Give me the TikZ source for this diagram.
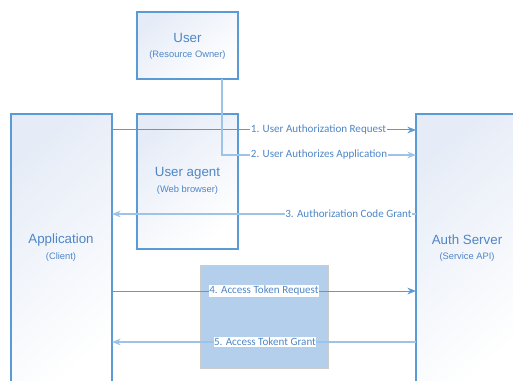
\documentclass[tikz,border=0pt]{standalone}
\usepackage{fontspec}
\setmainfont{Liberation Sans}
\newfontfamily\lblfont{Carlito}
\usetikzlibrary{arrows.meta}
\definecolor{edgeblue}{HTML}{5B9BD5}
\definecolor{paleblue}{HTML}{9DC3E6}
\definecolor{txtblue}{HTML}{4F86C6}
\definecolor{shadeblue}{HTML}{E6ECF7}
\definecolor{zonefill}{HTML}{B4CFEB}
\definecolor{zoneedge}{HTML}{CCCCCC}
\tikzset{
  party/.style={draw=edgeblue, line width=0.8pt, shading=axis, top color=shadeblue,
    bottom color=white, shading angle=40, inner sep=0pt, outer sep=0pt},
  title/.style={text=txtblue, font=\fontsize{10}{12}\selectfont, inner sep=0pt},
  subtitle/.style={text=txtblue, font=\fontsize{7}{8}\selectfont, inner sep=0pt},
  flow/.style={draw=edgeblue, line width=0.75pt, -{Stealth[length=6.5pt,width=5pt]}},
  flowpale/.style={draw=paleblue, line width=1pt, -{Stealth[length=6.5pt,width=5pt]}},
  msg/.style={text=txtblue, fill=white, font=\lblfont\fontsize{8.3}{10}\selectfont,
    inner xsep=0.4pt, inner ysep=0.6pt},
}
\begin{document}
\begin{tikzpicture}[x=0.75pt,y=-0.75pt]
\useasboundingbox (0,0) rectangle (513,381);
\clip (0,0) rectangle (513,381);
\fill[white] (0,0) rectangle (513,381);

% parties
\node[party, minimum width=75.75pt, minimum height=207pt] (app) at (61.5,252) {};
\node[party, minimum width=78pt, minimum height=207pt] (auth) at (468,252) {};
\node[party, minimum width=75.75pt, minimum height=50.25pt] (user) at (187.5,45.5) {};
\node[party, minimum width=75.75pt, minimum height=101.25pt] (agent) at (187.5,181.5) {};

% token exchange zone
\node[fill=zonefill, draw=zoneedge, line width=0.6pt, minimum width=96pt,
  minimum height=77.25pt, inner sep=0pt] (zone) at (264,316.5) {};

% party titles
\node[title] (usert) at (187.5,38) {User};
\node[subtitle] (users) at (187.5,55) {(Resource Owner)};
\node[title] (agentt) at (187.5,173) {User agent};
\node[subtitle] (agents) at (187.5,190) {(Web browser)};
\node[title] (appt) at (61,240) {Application};
\node[subtitle] (apps) at (61,257) {(Client)};
\node[title] (autht) at (467,240) {Auth Server};
\node[subtitle] (auths) at (467,257) {(Service API)};

% messages
\coordinate (udrop) at (222,0);
\draw[flow] (app.east |- 0,130) -- (auth.west |- 0,130);
\draw[flowpale] (user.south -| udrop) |- (auth.west |- 0,155);
\draw[flowpale] (auth.west |- 0,214) -- (app.east |- 0,214);
\draw[flow] (app.east |- 0,291) -- (auth.west |- 0,291);
\draw[flowpale] (auth.west |- 0,342) -- (app.east |- 0,342);

\node[msg] (m1) at (318.5,130) {1. User Authorization Request};
\node[msg] (m2) at (319,155) {2. User Authorizes Application};
\node[msg] (m3) at (348.5,214) {3. Authorization Code Grant};
\node[msg] (m4) at (264,291) {4. Access Token Request};
\node[msg] (m5) at (265,342) {5. Access Tokent Grant};
\end{tikzpicture}
\end{document}
